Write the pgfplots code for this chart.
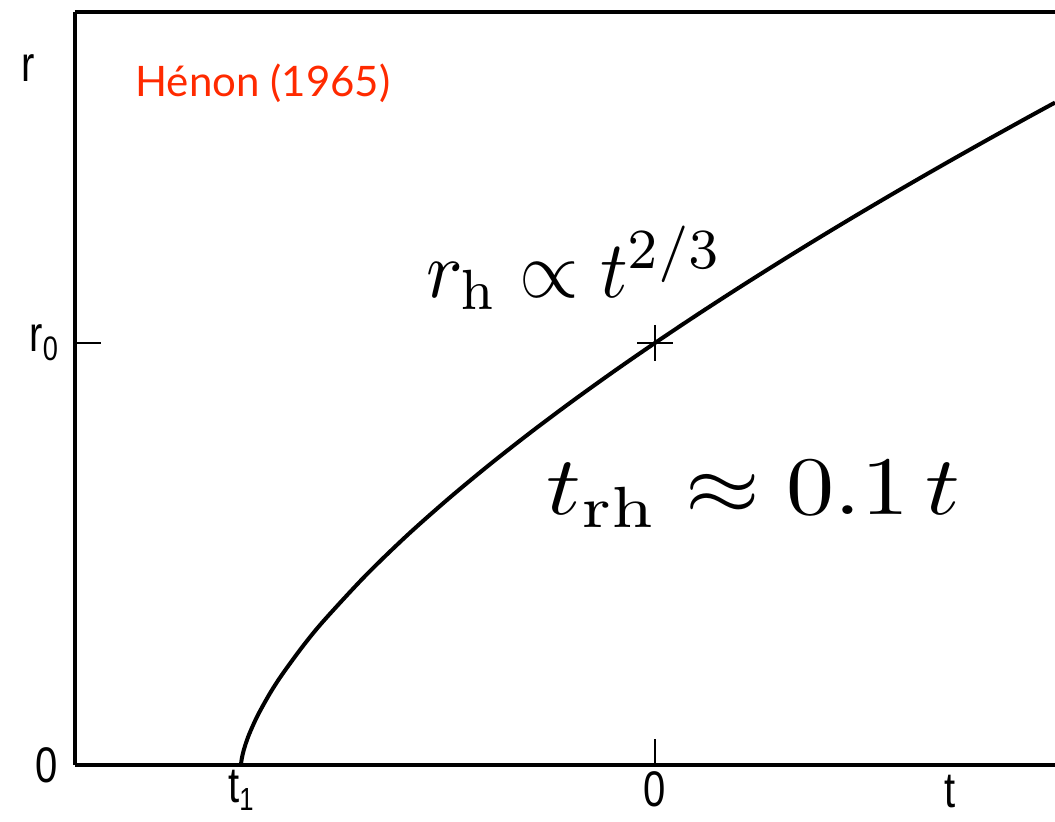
\documentclass[border=0pt]{standalone}
\usepackage{fontspec}
\usepackage{pgfplots}
\pgfplotsset{compat=1.18}
\newfontfamily\henonfont{Lato}
\newfontfamily\scanfont[FakeStretch=0.8]{Liberation Sans}
\definecolor{henonred}{HTML}{FF2A00}
\newcommand\scansize{\scanfont\fontsize{25}{25}\selectfont}

\begin{document}
\begin{tikzpicture}
% picture frame: 1 px of the reference = 0.5pt
\useasboundingbox (-37.5pt,-28pt) rectangle (490pt,382.5pt);
\begin{axis}[
    at={(0pt,0pt)}, anchor=south west,
    scale only axis, width=490pt, height=376.5pt,
    xmin=-1.401, xmax=0.966,
    ymin=0, ymax=1.784,
    clip=false,
    axis x line*=bottom, axis y line*=left,
    axis line style={-, line width=1.6pt},
    tick align=inside,
    major tick length=13pt,
    tick style={line width=1pt, black},
    xtick={0}, xticklabels={0},
    ytick={1}, yticklabels={r\raisebox{-0.35ex}{\fontsize{17}{17}\selectfont 0}},
    extra x ticks={-1},
    extra x tick labels={t\raisebox{-0.3ex}{\fontsize{16}{16}\selectfont 1}},
    extra x tick style={major tick length=0pt,
        tick label style={inner sep=0.5pt, yshift=-2pt}},
    extra y ticks={0}, extra y tick labels={0},
    extra y tick style={major tick length=0pt},
    tick label style={font=\scansize},
    yticklabel style={xshift=-5pt},
]
\draw[line width=1.6pt] (rel axis cs:0,1) -- (rel axis cs:1,1);
\addplot[line width=2pt, smooth, black] coordinates {
    (-1,0) (-0.9995,0.0063) (-0.998,0.0159) (-0.995,0.0292) (-0.99,0.0464)
    (-0.98,0.0737) (-0.96,0.117) (-0.93,0.170) (-0.9,0.2154) (-0.85,0.2823)
    (-0.8,0.342) (-0.7,0.448) (-0.6,0.543) (-0.5,0.630) (-0.4,0.7114)
    (-0.3,0.7884) (-0.2,0.8618) (-0.1,0.9322) (0,1) (0.1,1.0656)
    (0.2,1.1292) (0.3,1.1911) (0.4,1.2515) (0.5,1.3104) (0.6,1.368)
    (0.7,1.4244) (0.8,1.4797) (0.9,1.5341) (0.966,1.5694)
};
\addplot[only marks, mark=+, mark size=9pt, mark options={line width=1pt, black}]
    coordinates {(0,1)};
\node[anchor=base west, inner sep=0, text=henonred,
      font=\henonfont\fontsize{21}{21}\selectfont]
    at (axis cs:-1.256,1.585) {Hénon (1965)};
\node[anchor=base west, inner sep=0, xscale=3.82, yscale=4.05]
    at (axis cs:-0.556,1.107) {$r_\mathrm{h} \propto t^{2/3}$};
\node[anchor=base west, inner sep=0, xscale=4.8, yscale=4.15]
    at (axis cs:-0.266,0.593) {$t_\mathrm{rh} \approx 0.1\,t$};
\node[font=\scansize] at (axis cs:-1.515,1.652) {r};
\node[font=\scansize, inner sep=0.5pt] at (axis cs:0.713,-0.062) {t};
\end{axis}
\end{tikzpicture}
\end{document}
